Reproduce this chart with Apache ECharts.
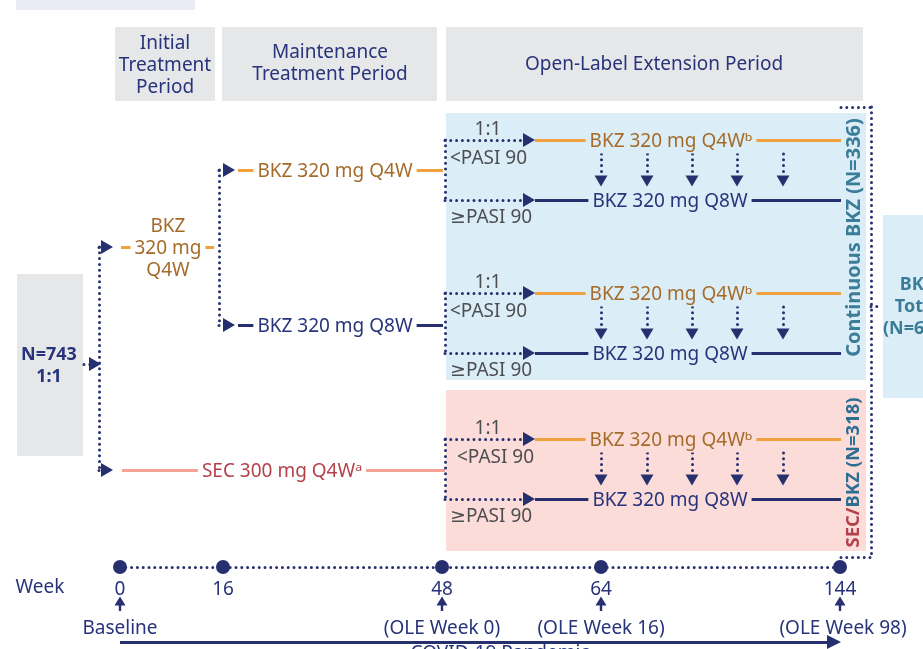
<!DOCTYPE html>
<html><head><meta charset="utf-8">
<script src="https://cdn.jsdelivr.net/npm/echarts@6/dist/echarts.min.js"></script>
<style>html,body{margin:0;padding:0;background:#fff}#c{width:923px;height:649px}</style>
</head><body><div id="c"></div>
<script>
// ---------------- data ----------------
const weeks = [0, 16, 48, 64, 144];
const weekNotes = ['Baseline', '', '(OLE Week 0)', '(OLE Week 16)', '(OLE Week 98)'];
const periods = ['Initial\nTreatment\nPeriod', 'Maintenance\nTreatment Period', 'Open-Label Extension Period'];
const randomizedN = 743;
const randomRatio = '1:1';
const cohortNames = ['Continuous BKZ', 'SEC/BKZ'];
const cohortN = [336, 318];
const totalN = 654;
const bkzDose = 'BKZ 320 mg';
const secDose = 'SEC 300 mg';
const responseCut = ['<PASI 90', '\u2265PASI 90'];
const switchArrowCount = 5;
const covidText = 'COVID-19 Pandemic';

// ---------------- layout (pixel units of the diagram) ----------------
const W = 923, H = 649;
const weekX = [120, 223, 442, 601, 840];
const timelineY = 567;
const groupTop = [140, 293, 439];
const groupBg = ['#dbeef7', '#dbeef7', '#fbdcd9'];
const groupPasiX = [450, 450, 457];
const switchX = [601, 647, 692, 737, 783];
const TY = 1.5; // text baseline nudge

const C = {
  navy: '#27337a', navyLine: '#26306f', orange: '#f0a03c', orangeText: '#a46b2a',
  salmon: '#f5a396', secText: '#b3414b', gray: '#4d4e52', teal: '#3b7d98', bkzBlue: '#2c6e93',
  blueBg: '#dbeef7', pinkBg: '#fbdcd9', grayBg: '#e6e7e9', lavender: '#ebebf5'
};
const FONT = '"Noto Sans", "DejaVu Sans", sans-serif';
const FS = 19;

const boxes = [
  [16, 0, 195, 10, C.lavender],
  [115, 27, 215, 101, C.grayBg],
  [222, 27, 437, 101, C.grayBg],
  [446, 27, 863, 101, C.grayBg],
  [17, 274, 83, 456, C.grayBg],
  [446, 113, 866, 380, C.blueBg],
  [446, 390, 866, 551, C.pinkBg],
  [883, 215, 940, 398, C.blueBg]
];

const solid = [
  [[121, 247], [214, 247], C.orange, 2.8],
  [[238, 170], [443, 170], C.orange, 2.8],
  [[238, 325], [443, 325], C.navyLine, 2.8],
  [[122, 470], [445, 470], C.salmon, 2.8],
  [[120, 642], [830, 642], C.navyLine, 2.8]
];
groupTop.forEach(t => {
  solid.push([[535, t], [841, t], C.orange, 2.8]);
  solid.push([[535, t + 60], [841, t + 60], C.navyLine, 2.8]);
});
weekX.forEach((x, i) => { if (weekNotes[i]) solid.push([[x, 603], [x, 611], C.navyLine, 2.4]); });

const dotted = [
  [[84, 364], [90, 364]],
  [[99, 247], [99, 470]],
  [[99, 247], [101, 247]], [[99, 470], [101, 470]],
  [[219, 170], [219, 325]],
  [[219, 170], [222, 170]], [[219, 325], [222, 325]],
  [[841, 107], [871, 107]], [[871, 107], [871, 557]], [[841, 557], [871, 557]],
  [[871, 306], [882, 306]],
  [[120, timelineY], [840, timelineY]]
];
groupTop.forEach(t => {
  dotted.push([[445, t], [445, t + 60]]);
  dotted.push([[445, t], [523, t]]);
  dotted.push([[445, t + 60], [523, t + 60]]);
  switchX.slice(0, switchArrowCount).forEach(x => dotted.push([[x, t + 14], [x, t + 35]]));
});

const rightHeads = [[95, 364], [107, 247], [107, 470], [229, 170], [229, 325]];
groupTop.forEach(t => { rightHeads.push([529, t]); rightHeads.push([529, t + 60]); });
const downHeads = [];
groupTop.forEach(t => switchX.forEach(x => downHeads.push([x, t + 41])));
const upHeads = weekX.filter((x, i) => weekNotes[i]).map(x => [x, 601]);

const texts = [];
function T(x, y, text, o) { texts.push(Object.assign({ x, y: y + TY, text }, o || {})); }
T(165, 64, periods[0], { lh: 22 });
T(330, 62, periods[1], { lh: 22 });
T(654, 63, periods[2]);
T(49, 364, 'N=' + randomizedN + '\n' + randomRatio, { weight: 'bold', lh: 22, size: 18 });
T(168, 225, 'BKZ', { color: C.orangeText });
T(168, 247, '320 mg', { color: C.orangeText, bg: '#fff' });
T(168, 269, 'Q4W', { color: C.orangeText });
T(335, 170, bkzDose + ' Q4W', { color: C.orangeText, bg: '#fff' });
T(335, 325, bkzDose + ' Q8W', { color: C.navy, bg: '#fff' });
T(282, 470, secDose + ' Q4W\u1d43', { color: C.secText, bg: '#fff' });
groupTop.forEach((t, i) => {
  T(488, t - 12, randomRatio, { color: C.gray });
  T(groupPasiX[i], t + 17, responseCut[0], { color: C.gray, align: 'left' });
  T(450, t + 76, responseCut[1], { color: C.gray, align: 'left' });
  T(671, t, bkzDose + ' Q4W\u1d47', { color: C.orangeText, bg: groupBg[i] });
  T(670, t + 60, bkzDose + ' Q8W', { color: C.navy, bg: groupBg[i] });
});
T(854, 236, cohortNames[0] + ' (N=' + cohortN[0] + ')', { color: C.teal, rot: Math.PI / 2, weight: 'bold', size: 20 });
T(854, 471, '{a|SEC/}{b|BKZ (N=' + cohortN[1] + ')}', { rot: Math.PI / 2, rich: {
  a: { fill: C.secText, fontSize: 18.5, fontFamily: FONT, fontWeight: 'bold' },
  b: { fill: C.bkzBlue, fontSize: 18.5, fontFamily: FONT, fontWeight: 'bold' } } });
T(917, 305, 'BKZ\nTotal\n(N=' + totalN + ')', { color: C.teal, weight: 'bold', lh: 22, size: 18 });
T(40, 586, 'Week');
weeks.forEach((w, i) => {
  T(weekX[i], 588, String(w));
  if (weekNotes[i]) T(weekX[i] + (i === 4 ? 3 : 0), 627, weekNotes[i]);
});
T(500, 652.5, covidText);

const option = {
  animation: false,
  grid: { left: 0, right: 0, top: 0, bottom: 0 },
  xAxis: { type: 'value', min: 0, max: W, show: false },
  yAxis: { type: 'value', min: 0, max: H, inverse: true, show: false },
  series: [
    {
      type: 'custom', z: 1, clip: false,
      data: boxes.map(b => [b[0], b[1], b[2], b[3]]),
      renderItem: (p, api) => {
        const a = api.coord([api.value(0), api.value(1)]);
        const b = api.coord([api.value(2), api.value(3)]);
        return { type: 'rect', shape: { x: a[0], y: a[1], width: b[0] - a[0], height: b[1] - a[1] },
          style: { fill: boxes[p.dataIndex][4] } };
      }
    },
    {
      type: 'lines', coordinateSystem: 'cartesian2d', z: 2, symbol: 'none',
      data: solid.map(s => ({ coords: [s[0], s[1]], lineStyle: { color: s[2], width: s[3], opacity: 1 } })),
      lineStyle: { type: 'solid', cap: 'butt', opacity: 1 }
    },
    {
      type: 'lines', coordinateSystem: 'cartesian2d', z: 3, symbol: 'none',
      data: dotted.map(s => ({ coords: [s[0], s[1]] })),
      lineStyle: { color: C.navyLine, width: 3, type: [0, 5.8], cap: 'round', opacity: 1 }
    },
    {
      type: 'scatter', z: 4, symbol: 'path://M0,0 L10,5 L0,10 Z', symbolSize: [12, 14],
      itemStyle: { color: C.navyLine, opacity: 1 }, data: rightHeads
    },
    {
      type: 'scatter', z: 4, symbol: 'path://M0,0 L10,0 L5,10 Z', symbolSize: [13, 11],
      itemStyle: { color: C.navyLine, opacity: 1 }, data: downHeads
    },
    {
      type: 'scatter', z: 4, symbol: 'path://M5,0 L10,10 L0,10 Z', symbolSize: [11, 9],
      itemStyle: { color: C.navyLine, opacity: 1 }, data: upHeads
    },
    {
      type: 'scatter', z: 4, symbol: 'path://M0,0 L10,5 L0,10 Z', symbolSize: [14, 14],
      itemStyle: { color: C.navyLine, opacity: 1 }, data: [[834, 642]]
    },
    {
      type: 'scatter', z: 5, symbol: 'circle', symbolSize: 14,
      itemStyle: { color: C.navyLine, opacity: 1 },
      data: weekX.map(x => [x, timelineY])
    },
    {
      type: 'custom', z: 10, clip: false,
      data: texts.map(t => [t.x, t.y]),
      renderItem: (p, api) => {
        const t = texts[p.dataIndex];
        const c = api.coord([api.value(0), api.value(1)]);
        const style = {
          text: t.text, fill: t.color || C.navy, fontSize: t.size || FS, fontFamily: FONT,
          fontWeight: t.weight || 'normal', align: t.align || 'center', verticalAlign: 'middle',
          lineHeight: t.lh || 24
        };
        if (t.bg) { style.backgroundColor = t.bg; style.padding = [0, 4]; }
        if (t.rich) style.rich = t.rich;
        return { type: 'text', x: c[0], y: c[1], rotation: t.rot || 0, style };
      }
    }
  ]
};
const chart = echarts.init(document.getElementById('c'));
chart.setOption(option);
</script>
</body></html>
